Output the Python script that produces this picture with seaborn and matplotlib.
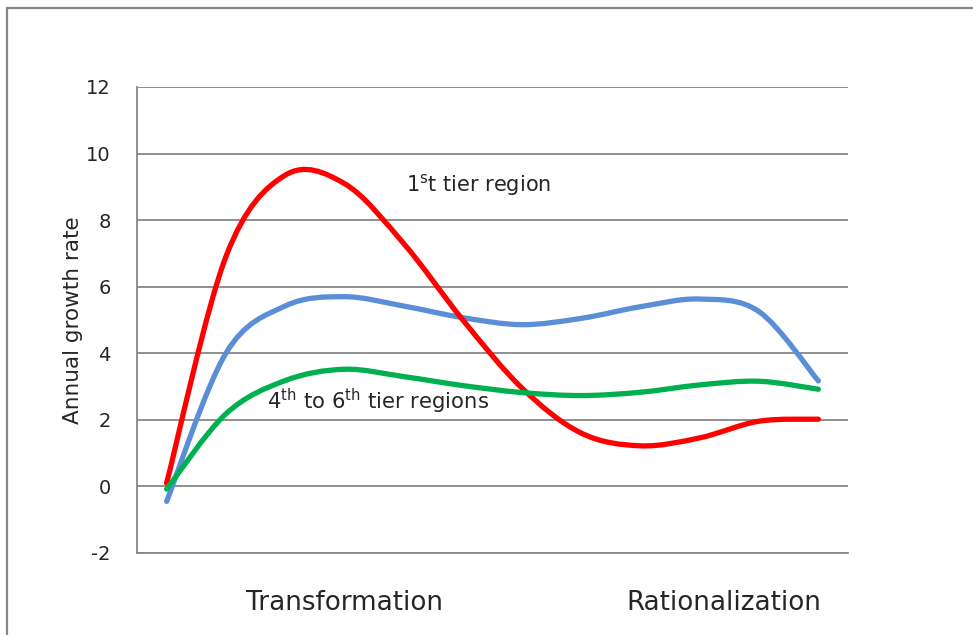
import numpy as np
import pandas as pd
import matplotlib
matplotlib.use("Agg")
import matplotlib.pyplot as plt
from matplotlib.path import Path
from matplotlib.patches import PathPatch, Rectangle
import seaborn as sns

# Annual growth rate per period along the development path
periods = list(range(12))
tier1 = [0.1, 6.9, 9.35, 9.1, 7.3, 5.0, 2.95, 1.6, 1.22, 1.46, 1.96, 2.02]
tier2_3 = [-0.45, 4.0, 5.42, 5.7, 5.42, 5.07, 4.86, 5.05, 5.4, 5.63, 5.25, 3.17]
tier4_6 = [-0.08, 2.18, 3.18, 3.52, 3.3, 3.03, 2.82, 2.73, 2.83, 3.05, 3.16, 2.92]

series_names = ["2nd to 3rd tier", "1st tier", "4th to 6th tier"]
series_colors = ["#5A8ED6", "#FF0000", "#00B050"]

stage_labels = ["Transformation", "Rationalization"]
stage_pos = [3, 9.4]
y_ticks = [-2, 0, 2, 4, 6, 8, 10, 12]

n = len(periods)
df = pd.DataFrame({
    "period": periods * 3,
    "rate": tier2_3 + tier1 + tier4_6,
    "tier": [series_names[0]] * n + [series_names[1]] * n + [series_names[2]] * n,
})

sns.set_theme(style="white")
plt.rcParams["font.family"] = ["DejaVu Sans"]
plt.rcParams["axes.unicode_minus"] = False

GRID = "#878787"
LW = 3.8

fig = plt.figure(figsize=(9.73, 6.35), dpi=100)
ax = fig.add_axes([137 / 973, 1 - 553 / 635, (848 - 137) / 973, (553 - 87) / 635])

sns.lineplot(data=df, x="period", y="rate", hue="tier", hue_order=series_names,
             palette=series_colors, linewidth=LW, legend=False, ax=ax)


def bezier_path(xy):
    """Smooth cubic-Bezier path through the points (spreadsheet-style smoothing)."""
    m = len(xy)
    verts = [xy[0]]
    codes = [Path.MOVETO]
    for i in range(m - 1):
        p0 = xy[max(i - 1, 0)]
        p1 = xy[i]
        p2 = xy[i + 1]
        p3 = xy[min(i + 2, m - 1)]
        c1 = p1 + (p2 - p0) / 6.0
        c2 = p2 - (p3 - p1) / 6.0
        verts += [c1, c2, p2]
        codes += [Path.CURVE4] * 3
    return Path(np.array(verts), codes)


# replace the straight polylines by smoothed curves through the same points
for k, line in enumerate(list(ax.lines)):
    xy = np.asarray(line.get_xydata(), dtype=float)
    line.set_visible(False)
    ax.add_patch(PathPatch(bezier_path(xy), fill=False, edgecolor=line.get_color(),
                           linewidth=LW, capstyle="round", joinstyle="round",
                           zorder=3 + k))

ax.set_xlim(-0.5, 11.5)
ax.set_ylim(-2, 12)
ax.set_yticks(y_ticks)
ax.set_xticks(stage_pos)
ax.set_xticklabels(stage_labels, fontsize=18.8)
ax.tick_params(axis="x", length=0, pad=27)
ax.tick_params(axis="y", length=5.8, width=1.0, color=GRID, direction="out",
               pad=13, labelsize=14)
ax.set_xlabel("")
ax.set_ylabel("Annual growth rate", fontsize=15.5, labelpad=2)

ax.yaxis.grid(True, color=GRID, linewidth=1.3)
ax.xaxis.grid(False)
for side in ["top", "right"]:
    ax.spines[side].set_visible(False)
for side in ["left", "bottom"]:
    ax.spines[side].set_color(GRID)
    ax.spines[side].set_linewidth(1.3)
ax.set_axisbelow(True)

ax.text(4.04, 8.86, r"1$^{\mathrm{s}}$t tier region", fontsize=15,
        ha="left", va="baseline")
ax.text(1.69, 2.31, r"4$^{\mathrm{th}}$ to 6$^{\mathrm{th}}$ tier regions", fontsize=15.2,
        ha="left", va="baseline")

# outer chart frame
fig.add_artist(Rectangle((7 / 973, -0.1), 1.2, 1 - 8 / 635 + 0.1,
                         transform=fig.transFigure, fill=False,
                         edgecolor=GRID, linewidth=1.6, clip_on=False))

fig.savefig("out.png", dpi=100)
